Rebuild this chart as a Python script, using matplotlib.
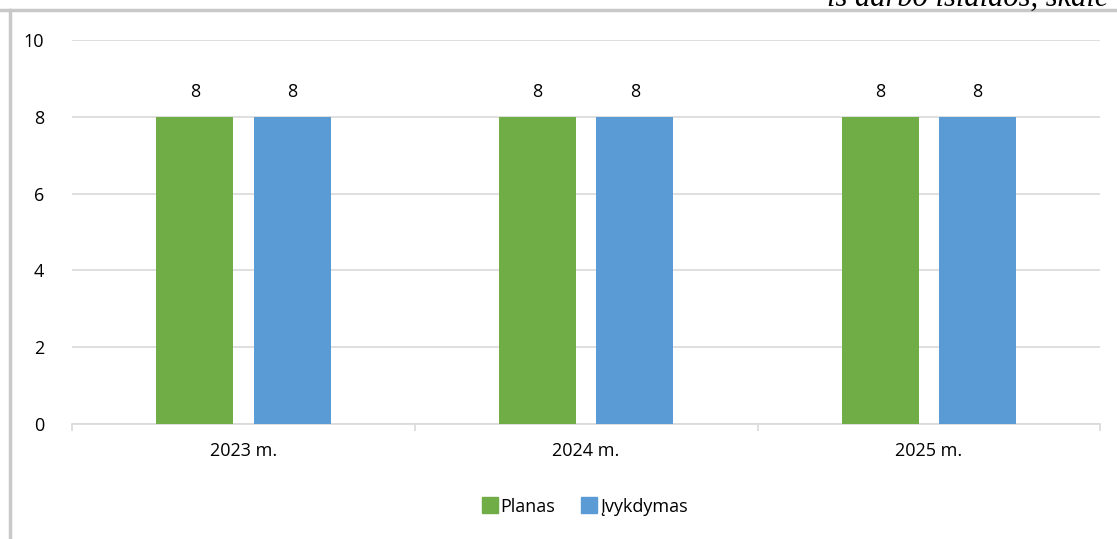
import matplotlib

matplotlib.use("Agg")

import matplotlib.pyplot as plt
import numpy as np
from matplotlib.lines import Line2D

# Duomenys
CATEGORIES = ["2023 m.", "2024 m.", "2025 m."]
PLANAS = [8, 8, 8]
IVYKDYMAS = [8, 8, 8]
SERIES_NAMES = ["Planas", "Įvykdymas"]

C_GREEN = "#70AD47"
C_BLUE = "#5B9BD5"
C_GRID = "#d9d9d9"
C_TEXT = "#262626"
C_FRAME = "#c8c8c8"

plt.rcParams["font.family"] = ["Open Sans", "DejaVu Sans"]

fig = plt.figure(figsize=(11.17, 5.39), dpi=100)
fig.patch.set_facecolor("white")
ax = fig.add_axes([0.0645, 0.2134, 0.9205, 0.7124])

x = np.arange(len(CATEGORIES))
w = 0.225
off = 0.142
b1 = ax.bar(x - off, PLANAS, w, color=C_GREEN, zorder=3)
b2 = ax.bar(x + off, IVYKDYMAS, w, color=C_BLUE, zorder=3)

for bars in (b1, b2):
    for r in bars:
        ax.text(r.get_x() + r.get_width() / 2, r.get_height() + 0.42,
                f"{r.get_height():g}", ha="center", va="bottom",
                fontsize=13, color="black")

ax.set_xlim(-0.5, len(CATEGORIES) - 0.5)
ax.set_ylim(0, 10)
ax.set_yticks(range(0, 11, 2))
ax.yaxis.grid(True, color=C_GRID, lw=1.2, zorder=0)
ax.set_axisbelow(True)

ax.set_xticks(x)
ax.set_xticklabels(CATEGORIES)
ax.set_xticks(np.arange(-0.5, len(CATEGORIES)), minor=True)
ax.tick_params(axis="x", which="major", length=0, pad=13, labelsize=13, colors=C_TEXT)
ax.tick_params(axis="x", which="minor", length=5, color=C_GRID, width=1.2)
ax.tick_params(axis="y", length=0, pad=20, labelsize=13, colors=C_TEXT)
for lbl in ax.get_xticklabels() + ax.get_yticklabels():
    lbl.set_color("black")

for s in ("top", "right", "left"):
    ax.spines[s].set_visible(False)
ax.spines["bottom"].set_color(C_GRID)
ax.spines["bottom"].set_linewidth(1.2)

handles = [Line2D([], [], marker="s", ls="", markersize=11, color=c)
           for c in (C_GREEN, C_BLUE)]
fig.legend(handles, SERIES_NAMES, loc="center", bbox_to_anchor=(0.523, 0.06),
           ncol=2, frameon=False, fontsize=13, handletextpad=0.1,
           columnspacing=1.4, handlelength=1.0)

# Rėmelis ir nukirstas viršutinis tekstas
fig.add_artist(Line2D([0, 1], [1 - 10 / 539] * 2, color=C_FRAME, lw=2.5,
                      transform=fig.transFigure))
fig.add_artist(Line2D([10 / 1117] * 2, [0, 1 - 10 / 539], color=C_FRAME, lw=2.5,
                      transform=fig.transFigure))
fig.text(0.74, 1 - 6 / 539, "iš darbo išlaidos, skaič", ha="left", va="baseline",
         fontsize=22, fontstyle="italic", family=["Liberation Serif", "DejaVu Serif"],
         color="black")

fig.savefig("out.png", dpi=100, facecolor="white")
